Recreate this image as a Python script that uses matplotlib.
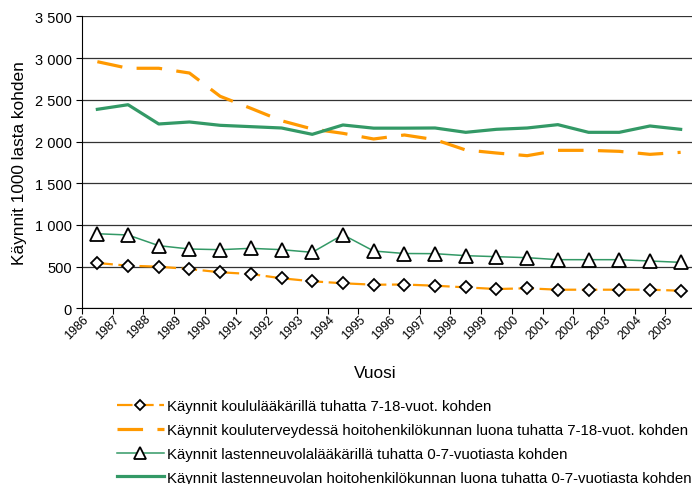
import numpy as np
import matplotlib.pyplot as plt
from matplotlib.ticker import FuncFormatter
from matplotlib.transforms import ScaledTranslation

plt.rcParams['font.family'] = ['Liberation Sans', 'DejaVu Sans']

vuodet = [str(v) for v in range(1986, 2006)]

# Käynnit koululääkärillä tuhatta 7-18-vuot. kohden
koululaakari = [543, 511, 499, 471, 432, 411, 360, 324, 300, 283,
                285, 271, 251, 231, 240, 223, 223, 223, 223, 211]
# Käynnit kouluterveydessä hoitohenkilökunnan luona
kouluterveys = [2957, 2878, 2878, 2821, 2542, 2398, 2249, 2150, 2098, 2030,
                2078, 2022, 1898, 1862, 1830, 1894, 1894, 1882, 1846, 1870]
# Käynnit lastenneuvolalääkärillä
neuvolalaakari = [894, 879, 751, 711, 703, 719, 703, 671, 882, 687,
                  657, 655, 631, 619, 607, 583, 583, 583, 567, 551]
# Käynnit lastenneuvolan hoitohenkilökunnan luona
neuvolahoito = [2386, 2441, 2210, 2234, 2194, 2178, 2162, 2086, 2198, 2160,
                2160, 2162, 2110, 2146, 2162, 2202, 2110, 2110, 2186, 2146]

nimet = [
    "Käynnit koululääkärillä tuhatta 7-18-vuot. kohden",
    "Käynnit kouluterveydessä hoitohenkilökunnan luona tuhatta 7-18-vuot. kohden",
    "Käynnit lastenneuvolalääkärillä tuhatta 0-7-vuotiasta kohden",
    "Käynnit lastenneuvolan hoitohenkilökunnan luona tuhatta 0-7-vuotiasta kohden",
]

oranssi = "#FF9900"
vihrea = "#339966"

fig = plt.figure(figsize=(6.92, 4.85), dpi=100)
ax = fig.add_axes([82 / 692, 1 - 309.3 / 485, 614 / 692, 291.9 / 485])

x = np.arange(len(vuodet))
ax.plot(x, koululaakari, color=oranssi, lw=1.6, ls=(0, (7, 2.5)),
        marker="D", ms=6.2, mfc="white", mec="black", mew=1.3, zorder=4)
ax.plot(x, kouluterveys, color=oranssi, lw=2.3, ls=(0, (8, 4.5)), zorder=3)
ax.plot(x, neuvolalaakari, color=vihrea, lw=1.1,
        marker="^", ms=10, mfc="white", mec="black", mew=1.3, zorder=4)
ax.plot(x, neuvolahoito, color=vihrea, lw=2.3, zorder=3)

ax.set_xlim(-0.5, len(vuodet) - 0.5)
ax.set_ylim(0, 3500)
ax.set_yticks(np.arange(0, 3501, 500))
ax.yaxis.set_major_formatter(FuncFormatter(lambda v, p: f"{int(v):,}".replace(",", " ")))
ax.grid(axis="y", color="#333333", lw=0.9)
ax.set_axisbelow(True)

ax.set_xticks(np.arange(-0.5, len(vuodet)), labels=[])
ax.set_xticks(x, labels=vuodet, minor=True, rotation=45, ha="right", fontsize=9)
ax.tick_params(axis="x", which="minor", length=0, pad=3)
ax.tick_params(axis="x", which="major", length=4, direction="out")
ax.tick_params(axis="y", length=4, labelsize=10.5)
siirto = ScaledTranslation(-6 / 100, 0, fig.dpi_scale_trans)
for t in ax.get_xticklabels(minor=True):
    t.set_transform(t.get_transform() + siirto)

for s in ["top", "right"]:
    ax.spines[s].set_visible(False)

ax.set_ylabel("Käynnit 1000 lasta kohden", fontsize=12.4)
ax.yaxis.set_label_coords(-0.089, 0.5)
ax.set_xlabel("Vuosi", fontsize=12.4)
ax.xaxis.set_label_coords(0.477, -0.195)

fig.legend(ax.get_lines(), nimet, loc="upper left", bbox_to_anchor=(117 / 692, 1 - 400 / 485),
           frameon=False, fontsize=10.8, handlelength=3.1, handletextpad=0.2,
           labelspacing=0.66, borderpad=0, borderaxespad=0, markerscale=0.8)

fig.savefig("out.png", dpi=100)
